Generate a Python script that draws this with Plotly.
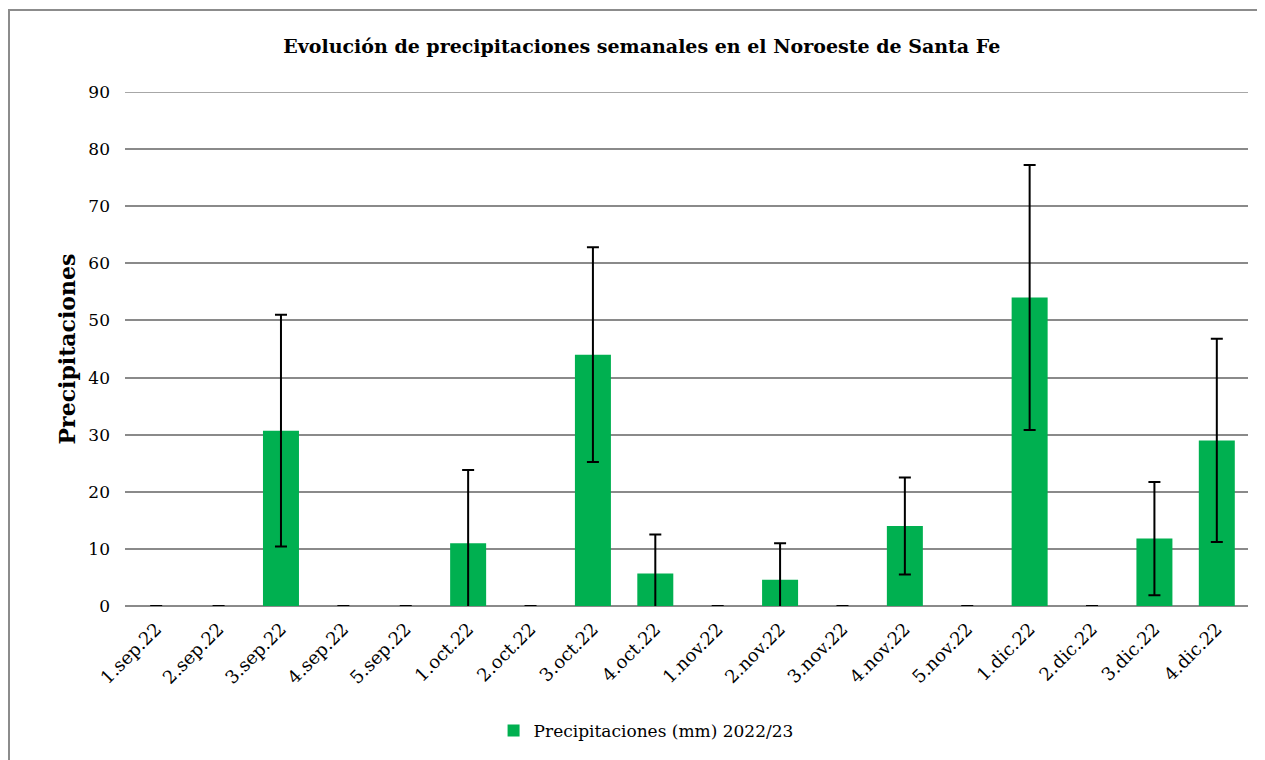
import plotly.graph_objects as go

# Weekly precipitation, NW Santa Fe, season 2022/23
semanas = ["1.sep.22", "2.sep.22", "3.sep.22", "4.sep.22", "5.sep.22",
           "1.oct.22", "2.oct.22", "3.oct.22", "4.oct.22",
           "1.nov.22", "2.nov.22", "3.nov.22", "4.nov.22", "5.nov.22",
           "1.dic.22", "2.dic.22", "3.dic.22", "4.dic.22"]
precip_mm = [0, 0, 30.7, 0, 0, 11.0, 0, 44.0, 5.7,
             0, 4.6, 0, 14.0, 0, 54.0, 0, 11.8, 29.0]
desvio = [0, 0, 20.3, 0, 0, 12.8, 0, 18.8, 6.8,
          0, 6.4, 0, 8.5, 0, 23.2, 0, 9.9, 17.8]
y_ticks = [0, 10, 20, 30, 40, 50, 60, 70, 80, 90]

serif = "DejaVu Serif"
grid_col = "#8a8a8a"

fig = go.Figure()
fig.add_trace(go.Bar(
    x=semanas, y=precip_mm,
    name="Precipitaciones (mm) 2022/23",
    marker=dict(color="#00B050", line=dict(width=0)),
    error_y=dict(type="data", array=desvio, visible=True,
                 color="black", thickness=2, width=6),
))

# outer chart frame like the spreadsheet one
fig.add_shape(type="rect", xref="paper", yref="paper",
              x0=-0.1033, x1=1.2, y0=-0.6, y1=1.1595,
              line=dict(color="#8c8c8c", width=2), fillcolor="rgba(0,0,0,0)",
              layer="below")
# plotly drops the gridline sitting on the top edge, so draw it by hand
fig.add_shape(type="line", xref="paper", yref="y",
              x0=0, x1=1, y0=y_ticks[-1], y1=y_ticks[-1],
              line=dict(color=grid_col, width=1.5), layer="below")

fig.update_layout(
    width=1265, height=760,
    margin=dict(l=117, r=25, t=84, b=162),
    paper_bgcolor="white", plot_bgcolor="white",
    font=dict(family=serif, color="black", size=16),
    title=dict(text="<b>Evolución de precipitaciones semanales en el Noroeste de Santa Fe</b>",
               x=0.501, xanchor="center", y=0.95, yanchor="middle",
               font=dict(family=serif, size=19, color="black")),
    bargap=0.423,
    showlegend=True,
    legend=dict(orientation="h", x=0.464, xanchor="center", y=-0.243, yanchor="middle",
                font=dict(family=serif, size=17)),
    xaxis=dict(tickangle=-45, tickfont=dict(family=serif, size=18),
               ticklabelstandoff=8,
               showline=False, showgrid=False, ticks=""),
    yaxis=dict(range=[0, 90], tickvals=y_ticks, showgrid=True,
               gridcolor=grid_col, gridwidth=1.5, zeroline=True,
               zerolinecolor=grid_col, zerolinewidth=1.5,
               ticks="", ticklabelstandoff=14,
               tickfont=dict(family=serif, size=17),
               title=dict(text="<b>Precipitaciones</b>", standoff=6,
                          font=dict(family=serif, size=22))),
)

fig.write_html("out.html")
